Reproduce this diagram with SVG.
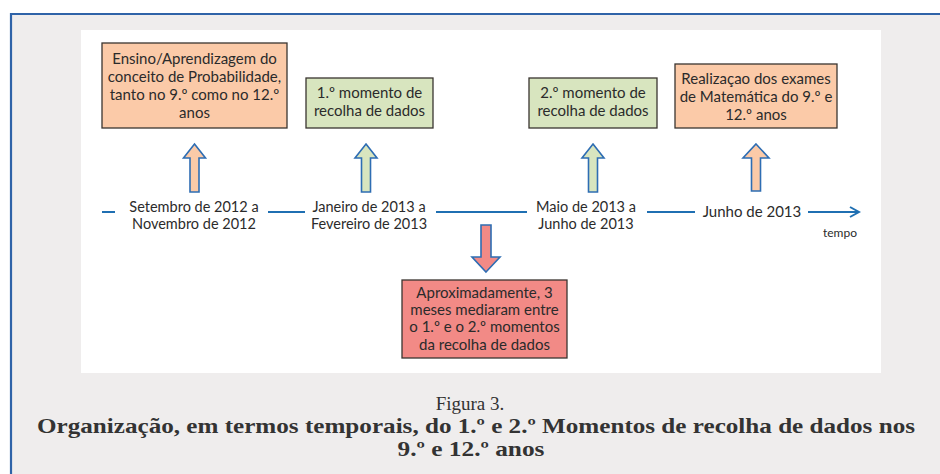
<svg xmlns="http://www.w3.org/2000/svg" width="940" height="474" viewBox="0 0 940 474">
<defs>
<style>
.t{font-family:Lato,"Liberation Sans",sans-serif;font-size:15px;fill:#2b2b2b;text-anchor:middle}
.s{font-size:14.5px}
.box{stroke:#3a3530;stroke-width:1.3}
.org{fill:#fbcaa8}
.grn{fill:#d8e5bf}
.red{fill:#f28a86}
.arr{stroke:#2e6db3;stroke-width:1.6;stroke-linejoin:miter}
.tl{stroke:#1f6fb2;stroke-width:2;fill:none}
.cap{font-family:"Liberation Serif",serif;fill:#333;text-anchor:middle;font-size:19px}
.capb{font-size:21px;font-weight:bold}
</style>
<marker id="ah" viewBox="0 0 12 12" refX="10" refY="6" markerWidth="12" markerHeight="12" markerUnits="userSpaceOnUse" orient="auto">
<path d="M1,1 L10,6 L1,11" fill="none" stroke="#1f6fb2" stroke-width="2"/>
</marker>
</defs>
<rect x="0" y="0" width="940" height="474" fill="#ffffff"/>
<rect x="10" y="13" width="930" height="461" fill="#efeded"/>
<path d="M11,474 L11,14 L940,14" fill="none" stroke="#2f63a8" stroke-width="2.2"/>
<rect x="81" y="30" width="800" height="343" fill="#ffffff"/>

<g id="connectors">
<line class="tl" x1="102" y1="212" x2="115" y2="212"/>
<line class="tl" x1="268" y1="212" x2="305" y2="212"/>
<line class="tl" x1="436" y1="212" x2="527" y2="212"/>
<line class="tl" x1="647" y1="212" x2="695" y2="212"/>
<line class="tl" x1="808" y1="212" x2="859" y2="212" marker-end="url(#ah)"/>
<path class="arr org" d="M194.5,144 L205.5,158 L199,158 L199,192 L190,192 L190,158 L183.5,158 Z"/>
<path class="arr grn" d="M366,144 L377,158 L370.5,158 L370.5,192 L361.5,192 L361.5,158 L355,158 Z"/>
<path class="arr grn" d="M593,144 L604,158 L597.5,158 L597.5,192 L588.5,192 L588.5,158 L582,158 Z"/>
<path class="arr org" d="M756,144 L769,158 L760.5,158 L760.5,191 L751.5,191 L751.5,158 L743,158 Z"/>
<path class="arr red" d="M486,272 L500,257 L491,257 L491,225 L481,225 L481,257 L472,257 Z"/>
</g>

<g id="box-ensino">
<rect class="box org" x="102" y="43" width="185" height="85"/>
<text class="t" x="194.5" y="64">Ensino/Aprendizagem do</text>
<text class="t" x="194.5" y="82">conceito de Probabilidade,</text>
<text class="t" x="194.5" y="100">tanto no 9.º como no 12.º</text>
<text class="t" x="194.5" y="118">anos</text>
</g>
<g id="box-m1">
<rect class="box grn" x="306" y="78" width="127" height="50"/>
<text class="t" x="369.5" y="98">1.º momento de</text>
<text class="t" x="369.5" y="116">recolha de dados</text>
</g>
<g id="box-m2">
<rect class="box grn" x="529" y="78" width="128" height="50"/>
<text class="t" x="593" y="98">2.º momento de</text>
<text class="t" x="593" y="116">recolha de dados</text>
</g>
<g id="box-exames">
<rect class="box org" x="675" y="64" width="162" height="64"/>
<text class="t" x="756" y="84">Realizaçao dos exames</text>
<text class="t" x="756" y="102">de Matemática do 9.º e</text>
<text class="t" x="756" y="120">12.º anos</text>
</g>
<g id="box-aprox">
<rect class="box red" x="402" y="280" width="165" height="78"/>
<text class="t" x="484.5" y="298">Aproximadamente, 3</text>
<text class="t" x="484.5" y="315">meses mediaram entre</text>
<text class="t" x="484.5" y="332">o 1.º e o 2.º momentos</text>
<text class="t" x="484.5" y="350">da recolha de dados</text>
</g>
<g id="lbl-set">
<text class="t s" x="194" y="212">Setembro de 2012 a</text>
<text class="t s" x="194" y="229">Novembro de 2012</text>
</g>
<g id="lbl-jan">
<text class="t s" x="369" y="212">Janeiro de 2013 a</text>
<text class="t s" x="369" y="229">Fevereiro de 2013</text>
</g>
<g id="lbl-mai">
<text class="t s" x="586" y="212">Maio de 2013 a</text>
<text class="t s" x="586" y="229">Junho de 2013</text>
</g>
<g id="lbl-jun">
<text class="t" x="752" y="217">Junho de 2013</text>
</g>
<g id="lbl-tempo">
<text class="t" x="840" y="237" style="font-size:12px">tempo</text>
</g>
<g id="caption">
<text class="cap" x="470" y="410">Figura 3.</text>
<text class="cap capb" x="476" y="433" textLength="878" lengthAdjust="spacingAndGlyphs">Organização, em termos temporais, do 1.º e 2.º Momentos de recolha de dados nos</text>
<text class="cap capb" x="471" y="456" textLength="147" lengthAdjust="spacingAndGlyphs">9.º e 12.º anos</text>
</g>
</svg>
